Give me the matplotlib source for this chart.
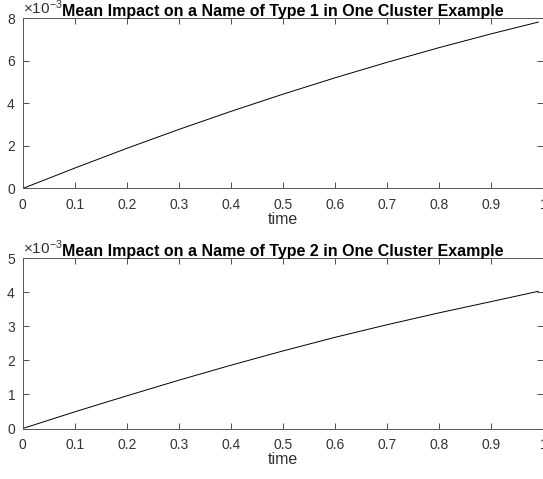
import numpy as np
import matplotlib
matplotlib.use('Agg')
import matplotlib.pyplot as plt
from matplotlib.ticker import ScalarFormatter

plt.rcParams['font.family'] = ['Liberation Sans', 'DejaVu Sans']
plt.rcParams['mathtext.fontset'] = 'custom'
plt.rcParams['mathtext.rm'] = 'Liberation Sans'
plt.rcParams['mathtext.it'] = 'Liberation Sans:italic'

# Data (values in units of 1e-3)
time = [0.0, 0.1, 0.2, 0.3, 0.4, 0.5, 0.6, 0.7, 0.8, 0.9, 0.99]
impact_type1 = [0.0, 0.96, 1.89, 2.78, 3.63, 4.44, 5.21, 5.94, 6.63, 7.28, 7.83]
impact_type2 = [0.0, 0.49, 0.96, 1.42, 1.86, 2.28, 2.68, 3.05, 3.40, 3.73, 4.03]

titles = ['Mean Impact on a Name of Type 1 in One Cluster Example',
          'Mean Impact on a Name of Type 2 in One Cluster Example']
ylims = [8, 5]
xticks = [0, 0.1, 0.2, 0.3, 0.4, 0.5, 0.6, 0.7, 0.8, 0.9, 1]
xticklabels = ['0', '0.1', '0.2', '0.3', '0.4', '0.5', '0.6', '0.7', '0.8', '0.9', '1']

axis_col = '#333333'

fig = plt.figure(figsize=(5.43, 4.79), dpi=100)
positions = [[0.0418, 0.6065, 0.959, 0.3549],
             [0.0418, 0.1054, 0.959, 0.3553]]

for pos, series, title, ytop in zip(positions, [impact_type1, impact_type2], titles, ylims):
    ax = fig.add_axes(pos)
    ax.plot(time, np.array(series) * 1e-3, color='black', linewidth=0.7)
    ax.set_xlim(0, 1)
    ax.set_ylim(0, ytop * 1e-3)
    ax.set_xticks(xticks)
    ax.set_xticklabels(xticklabels)
    fmt = ScalarFormatter(useMathText=True)
    fmt.set_powerlimits((-2, 2))
    ax.yaxis.set_major_formatter(fmt)
    ax.yaxis.get_offset_text().set_fontsize(11)
    ax.yaxis.get_offset_text().set_color(axis_col)
    ax.tick_params(direction='in', top=True, right=True, length=4, width=0.6,
                   labelsize=10, colors=axis_col)
    ax.tick_params(axis='x', pad=7)
    ax.tick_params(axis='y', pad=5)
    for sp in ax.spines.values():
        sp.set_color('#555555')
        sp.set_linewidth(0.7)
    # fixed y so the title is not pushed up by the offset text
    ax.set_title(title, fontsize=11.5, fontweight='bold', y=1.0, pad=2)
    ax.set_xlabel('time', fontsize=11.5, color=axis_col, labelpad=0)

fig.savefig('out.png', dpi=100)
